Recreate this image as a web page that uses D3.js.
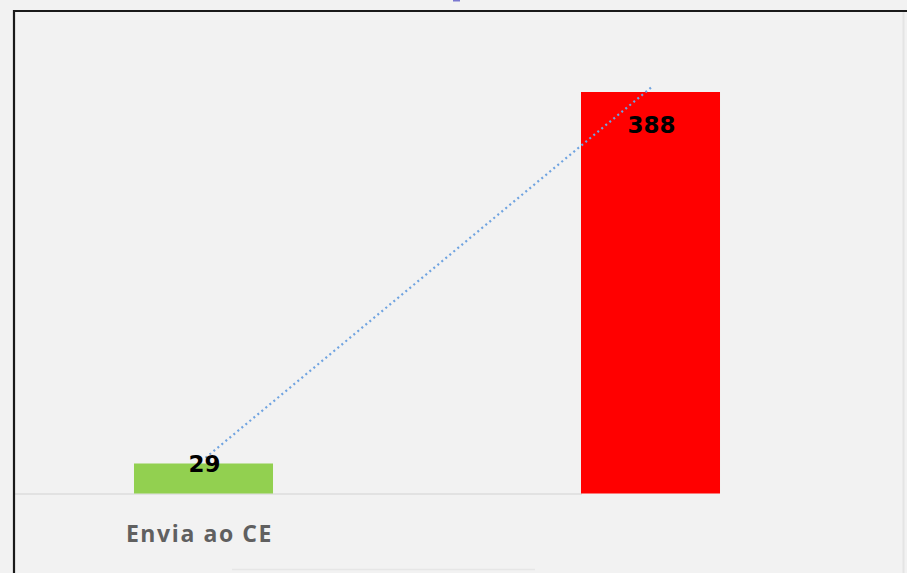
<!DOCTYPE html>
<html>
<head>
<meta charset="utf-8">
<script src="https://cdn.jsdelivr.net/npm/d3@7"></script>
<style>
  html, body { margin: 0; padding: 0; background: #f2f2f2; }
  svg { display: block; }
</style>
</head>
<body>
<svg id="chart" width="907" height="573"></svg>
<script>
const categories = ["Envia ao CE", ""];
const values = [29, 388];
const barColors = ["#92d050", "#ff0000"];
const labels = ["29", "388"];

const W = 907, H = 573;
const svg = d3.select("#chart");

svg.append("rect").attr("width", W).attr("height", H).attr("fill", "#f2f2f2");

// tiny fragment of a cut-off title at the very top
svg.append("rect").attr("x", 453).attr("y", 0).attr("width", 7).attr("height", 1.5)
  .attr("fill", "#7a78d0");

const x = d3.scaleBand().domain(categories).range([-20, 874]).paddingInner(0.689).paddingOuter(0.3445);
const y = d3.scaleLinear().domain([0, 388]).range([493.5, 92]);

// faint right and bottom edges
svg.append("line").attr("x1", 903.5).attr("x2", 903.5).attr("y1", 12).attr("y2", H)
  .attr("stroke", "#e4e4e4").attr("stroke-width", 2);
svg.append("line").attr("x1", 232).attr("x2", 535).attr("y1", 569.5).attr("y2", 569.5)
  .attr("stroke", "#e6e6e6").attr("stroke-width", 1.5);

// baseline
svg.append("line").attr("x1", 15).attr("x2", 582).attr("y1", y(0) + 0.5).attr("y2", y(0) + 0.5)
  .attr("stroke", "#dcdcdc").attr("stroke-width", 1.5);

// bars
svg.selectAll("rect.bar").data(values).enter().append("rect")
  .attr("class", "bar")
  .attr("x", (d, i) => x(categories[i]))
  .attr("width", x.bandwidth())
  .attr("y", d => y(d))
  .attr("height", d => y(0) - y(d))
  .attr("fill", (d, i) => barColors[i]);

// dotted trend line
const xc = i => x(categories[i]) + x.bandwidth() / 2;
const slope = (y(values[1]) - y(values[0])) / (xc(1) - xc(0));
const x0 = xc(0) + 2, x1 = xc(1) + 2;
svg.append("line")
  .attr("x1", x0).attr("y1", y(values[0]) + slope * (x0 - xc(0)) - 4)
  .attr("x2", x1).attr("y2", y(values[0]) + slope * (x1 - xc(0)) - 4)
  .attr("stroke", "#6fa3e0").attr("stroke-width", 2.2)
  .attr("stroke-dasharray", "2,3.2");

// value labels
svg.selectAll("text.val").data(values).enter().append("text")
  .attr("class", "val")
  .attr("x", (d, i) => xc(i) + 1)
  .attr("y", d => (y(0) - y(d)) < 40 ? y(d) + 9 : y(d) + 41)
  .attr("text-anchor", "middle")
  .attr("font-family", "DejaVu Sans, sans-serif")
  .attr("font-weight", "bold")
  .attr("font-size", 23)
  .attr("fill", "#000")
  .text((d, i) => labels[i]);

// category labels
svg.selectAll("text.cat").data(categories).enter().append("text")
  .attr("class", "cat")
  .attr("x", d => x(d) + x.bandwidth() / 2 - 4)
  .attr("y", 542)
  .attr("text-anchor", "middle")
  .attr("font-family", "Open Sans, sans-serif")
  .attr("font-weight", "bold")
  .attr("font-size", 23)
  .attr("letter-spacing", 1.6)
  .attr("fill", "#606060")
  .text(d => d);

// frame (left and top dark border)
svg.append("path").attr("d", `M14,${H} L14,11 L${W},11`)
  .attr("fill", "none").attr("stroke", "#1a1a1a").attr("stroke-width", 2.2);
</script>
</body>
</html>
